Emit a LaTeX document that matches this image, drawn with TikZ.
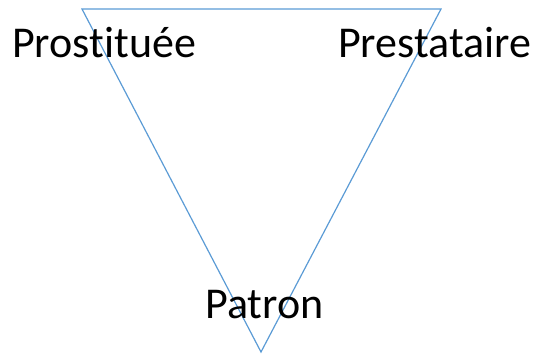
\documentclass[tikz,border=0pt]{standalone}
\usepackage{fontspec}
\setmainfont{Carlito}[Ligatures={NoCommon}]
\usepackage{xcolor}
\usetikzlibrary{positioning}
\definecolor{EdgeBlue}{HTML}{5B9BD5}
\tikzset{
  roleline/.style={draw=EdgeBlue, line width=1.2pt, line join=miter},
  rolelabel/.style={inner sep=0pt, anchor=base west, text=black, font=\fontsize{44}{52}\selectfont}
}

\begin{document}
\begin{tikzpicture}[x=1pt, y=-1pt]
  \useasboundingbox (0,0) rectangle (541,356);
  \coordinate (topleft) at (82,9);
  \coordinate (topright) at (441,9);
  \coordinate (bottom) at (261,352);
  \draw[roleline] (topleft) -- (topright) -- (bottom) -- cycle;
  \node[rolelabel] (prostituee) at (12,57) {Prostituée};
  \node[rolelabel] (prestataire) at (338,57) {Prestataire};
  \node[rolelabel] (patron) at (205,318) {Patron};
\end{tikzpicture}
\end{document}
